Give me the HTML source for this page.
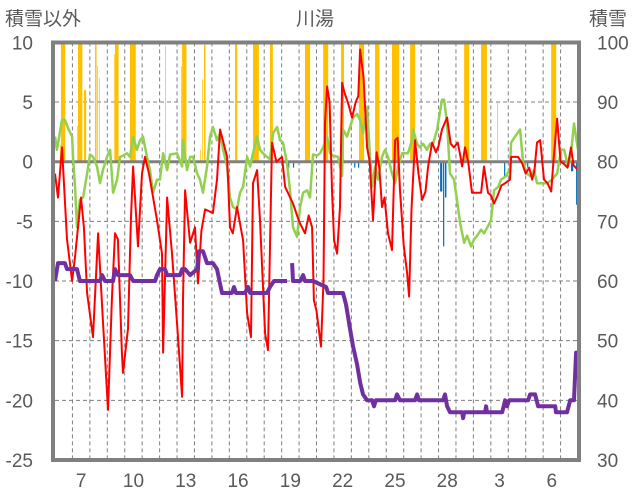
<!DOCTYPE html>
<html><head><meta charset="utf-8"><style>
html,body{margin:0;padding:0;background:#fff;}
svg{display:block;font-family:"Liberation Sans","Noto Sans CJK JP",sans-serif;}
</style></head><body>
<svg id="chart" width="636" height="501" viewBox="0 0 636 501" xmlns="http://www.w3.org/2000/svg">
<text x="315" y="25" font-size="19" fill="#595959" text-anchor="middle">川湯</text>
<text x="5" y="25" font-size="19" fill="#595959">積雪以外</text>
<text x="589" y="25" font-size="19" fill="#595959">積雪</text>
<g id="grid"></g>
<g id="bars"></g>
<g id="lines"></g>
<g id="axes"></g>
</svg>
<script>
const leftTicks = [10,5,0,-5,-10,-15,-20,-25];
const rightTicks = [100,90,80,70,60,50,40,30];
const xLabels = ["7","10","13","16","19","22","25","28","3","6"];
const xLabelDays = [1,4,7,10,13,16,19,22,25,28];
const dayCount = 30;

const redT = [0,0.17,0.4,0.69,0.98,1.15,1.32,1.49,1.66,1.84,2.18,2.47,2.75,3.04,3.27,3.44,3.61,3.84,3.9,4.19,4.36,4.48,4.76,4.99,5.16,5.39,5.85,6.14,6.2,6.43,6.71,7.0,7.29,7.34,7.46,7.75,8.03,8.2,8.4,8.61,9.06,9.29,9.47,9.87,10.04,10.2,10.44,10.79,11.02,11.24,11.36,11.59,11.76,12.05,12.22,12.45,12.7,13.02,13.2,13.65,14.0,14.34,14.55,14.75,14.85,15.0,15.26,15.4,15.49,15.61,15.75,15.89,16.01,16.18,16.35,16.47,16.6,16.81,17.04,17.25,17.4,17.5,17.7,17.9,18.05,18.24,18.45,18.6,18.76,18.9,19.1,19.33,19.51,19.65,19.79,20.0,20.2,20.31,20.45,20.65,20.85,21.06,21.25,21.4,21.63,21.85,22.0,22.2,22.49,22.7,22.89,23.1,23.25,23.35,23.52,23.7,23.92,24.2,24.44,24.61,24.84,25.0,25.19,25.4,25.6,25.82,26.0,26.1,26.16,26.56,26.79,27.0,27.2,27.37,27.5,27.65,27.83,28.05,28.25,28.46,28.6,28.8,29.0,29.2,29.4,29.6,29.75,30];
const redV = [-1,-3,1.2,-6.5,-10,-8,-5.5,-3,-5.5,-11,-14.7,-6,-13.3,-20.8,-11.3,-6,-6.5,-16,-17.7,-14,-4.6,-0.4,-7.1,-1,0.4,-1,-4.9,-7.7,-16,-3,-7.7,-13.5,-19.7,-11.6,-2.4,-6.8,-5.5,-10.2,-5.8,-4,-4.3,-1.5,2.7,0.4,-5.5,-6,-3.8,-6.6,-12.7,-14.7,-1.8,-0.7,-4.9,-14.4,-15.8,1.6,0,0.4,-2.1,-3.5,-5,-6,-4.5,-5.5,-11.6,-12.5,-15.5,-10,3.2,6.3,5,-2.4,-6.6,-7.7,-3.8,6.6,5.8,4.9,3.7,5,5.5,9.4,7,1.2,0,-4.9,0.8,-0.5,-3.8,-3,-6,-7.4,1.8,2,-2.4,-7,-9.4,-11.3,-4,1.8,-1,-3.2,-2.5,-0.4,1.6,0.8,1.3,2.7,3.7,1.5,1.2,1.6,0.5,-0.4,1.2,0,-2.6,-2.6,-2.6,-0.4,-2.6,-2.8,-3.5,-2.8,-2,-1.8,-1.6,-1.5,0.4,0.4,-0.1,-1,-0.5,-1.5,-0.8,1.6,1.8,-1.5,-1.8,-2.5,0.2,3.6,0,-0.2,-0.5,1.2,-0.3,-0.7];

const greenT = [0,0.11,0.4,0.57,0.75,0.98,1.03,1.15,1.26,1.43,1.61,1.84,2.01,2.18,2.41,2.58,2.75,2.98,3.16,3.33,3.56,3.73,3.9,4.13,4.3,4.48,4.7,4.88,5.05,5.28,5.45,5.62,5.85,6.02,6.2,6.43,6.6,7.0,7.29,7.34,7.57,7.75,7.92,8.15,8.32,8.49,8.72,8.89,9.06,9.29,9.47,9.64,9.87,10.04,10.21,10.44,10.61,10.79,11.02,11.19,11.36,11.59,11.76,11.93,12.16,12.33,12.51,12.74,12.91,13.08,13.31,13.48,13.65,13.88,14.06,14.23,14.46,14.63,14.8,15.03,15.2,15.38,15.61,15.78,15.95,16.24,16.47,16.52,16.75,16.92,17.1,17.33,17.5,17.67,17.9,18.07,18.19,18.36,18.53,18.76,18.93,19.1,19.33,19.51,19.68,19.91,20.08,20.25,20.48,20.54,20.77,20.94,21.11,21.34,21.51,21.69,21.92,22.2,22.32,22.49,22.66,22.89,23.06,23.24,23.47,23.64,23.87,24.04,24.21,24.44,24.61,24.84,25.01,25.19,25.42,25.59,25.88,26.1,26.16,26.39,26.68,26.85,27.08,27.25,27.48,27.65,27.94,28.23,28.51,28.8,29.03,29.2,29.43,29.6,29.77,30];
const greenV = [2.1,1.0,3.5,3.5,2.8,2.1,0.4,-2.1,-5.5,-3.2,-3,-1.0,0.6,0.4,-0.4,-1.8,-0.7,0.4,1.0,-2.6,-1.5,0.4,0.5,0.7,0.4,2.1,1.0,1.8,2.1,0.4,-0.7,-2.6,-1.5,-1.5,0.7,-0.7,0.6,0.7,-0.4,1.8,-0.7,0.4,0.4,-1,-1.5,-2.6,-0.4,2.1,2.9,1.8,2.4,1.0,-0.4,-3,-3.8,-4,-2.6,-2.1,0.4,-0.4,0.7,2.1,1.0,0.7,0.4,0.2,2.4,2.9,1.8,1.6,-0.1,-2.4,-5.5,-6.3,-3.8,-2.6,-2.4,-3,0.6,0.5,0.7,1.2,2.1,0.7,0.5,0.4,-1.2,2.7,2.1,2.9,3.7,4.0,3.5,2.4,4.6,0.4,-2.1,-0.4,-1.5,0.4,1.0,0.4,-1,-1.8,-0.4,0.7,0.7,0.7,1.8,2.7,1.5,1.2,1.5,1.0,1.5,1.5,2.7,5.2,5.2,3.2,-1,-1.5,-3.2,-5.2,-6.8,-6.2,-7.1,-6.5,-6.2,-5.7,-6,-5.4,-4.9,-2.4,-2.1,-1.5,-1.2,-0.6,1.6,2.1,2.7,-0.1,-1,-1.2,-0.7,-1.8,-1.8,-1.8,-1.5,-1,1,1,-0.4,0.7,3.2,1.0];

const snowT = [0,0.17,0.57,0.69,1.26,1.43,2.58,2.7,2.87,3.33,3.44,3.61,4.3,4.48,5.74,5.85,6.02,6.31,6.43,7.17,7.29,7.46,7.75,8.15,8.26,8.49,8.72,9.06,9.29,9.58,10.15,10.27,10.38,10.9,11.07,11.19,12.16,12.33,12.56,13.31,13.45,13.6,13.65,14.06,14.23,14.34,14.8,15.55,15.66,16.52,16.7,16.92,17.1,17.33,17.5,17.67,17.9,18.19,18.3,18.41,19.51,19.62,19.79,20.65,20.77,20.88,22.26,22.37,22.49,22.66,23.35,23.41,23.47,24.67,24.73,24.78,25.65,25.82,25.93,26.05,27.14,27.25,27.54,27.71,28.69,28.74,29.37,29.55,29.77,29.89,30];
const snowV = [60,63,63,62,62,60,60,61,60,60,62,61,61,60,60,61,62,62,61,61,62,62,61,62,65,65,63,63,62,58,58,59,58,58,59,58,58,59,60,60,null,63,60,60,61,60,60,59,58,58,56,52,49,46,43,41,40,40,39,40,40,41,40,40,41,40,40,41,39,38,38,37,38,38,39,38,38,40,39,40,40,41,41,39,39,38,38,40,40,48,48];

const precipT = [0.29,0.34,1.26,1.32,1.66,2.3,2.41,2.52,3.38,3.44,4.3,6.31,7.23,7.29,8.32,8.43,8.55,10.33,11.36,12.33,14.34,15.38,16.41,17.44,18.36,19.33,20.37,23.47,24.44,25.36,27.54,28.46];
const precipHours = [1,6,1,6,3,2,1,1,1,5,8,1,1,6,1,1,2,3,8,4,7,7,4,7,6,10,7,7,8,1,1,7];
const precipV = [1.4,12,3,12,6,10,8,7,9,12,12,9.7,8,12,1,6.9,9.8,12,12,12,12,12,12,12,12,12,12,12,12,5,0.6,12];

const meltT = [13.37,13.65,17.16,17.38,22.09,22.26,22.37,25.76,27.08,29.6,29.89];
const meltHours = [1,1,1,1,3,1,2,1,1,3,1];
const meltV = [-0.5,-0.5,-0.5,-0.5,-2.5,-7.1,-3,-1.2,-0.5,-0.8,-3.6];

const NS = "http://www.w3.org/2000/svg";
const X0 = 55, X1 = 578, YT = 42.4, YB = 460;
function xs(t){ return X0 + t*(X1-X0)/dayCount; }
function yl(v){ return 161.7 - v*(YB-161.7)/25; }
function yr(v){ return yl((v-80)/2); }
function mk(tag, attrs, parent){ const e=document.createElementNS(NS,tag); for(const k in attrs) e.setAttribute(k,attrs[k]); parent.appendChild(e); return e; }

const grid = document.getElementById('grid');
for (let i=0;i<leftTicks.length;i++){
  const v=leftTicks[i];
  if (v===0||v===10||v===-25) continue;
  const l = mk('line',{x1:X0,x2:X1,y1:yl(v),y2:yl(v),stroke:'#7f7f7f','stroke-width':1,'stroke-dasharray':'4,3'},grid);
  
  
}
for (let d=1; d<dayCount; d++){
  const l = mk('line',{x1:xs(d),x2:xs(d),y1:YT,y2:YB,stroke:'#7f7f7f','stroke-width':1,'stroke-dasharray':'4,3'},grid);
  
  
}

const bars = document.getElementById('bars');
for (let i=0;i<precipT.length;i++){
  const x = xs(precipT[i]), w = xs(precipT[i]+precipHours[i]/24)-x;
  const top = Math.max(YT, yl(precipV[i]));
  const r = mk('rect',{x:x,y:top,width:w,height:yl(0)-top,fill:'#ffc000'},bars);
  
  
}
for (let i=0;i<meltT.length;i++){
  const x = xs(meltT[i]), w = Math.max(1.2, xs(meltT[i]+meltHours[i]/24)-x);
  const r = mk('rect',{x:x,y:yl(0),width:w,height:yl(meltV[i])-yl(0),fill:'#0070c0'},bars);
  
  
}
const zl = mk('line',{x1:X0,x2:X1,y1:yl(0),y2:yl(0),stroke:'#808080','stroke-width':3},bars);



const lines = document.getElementById('lines');
function path(T,V,f){
  let d='', pen=false;
  for(let i=0;i<T.length;i++){
    if(V[i]===null){pen=false;continue;}
    d += (pen?'L':'M') + xs(T[i]).toFixed(1)+','+f(V[i]).toFixed(1);
    pen=true;
  }
  return d;
}
const g = mk('path',{d:path(greenT,greenV,yl),fill:'none',stroke:'#92d050','stroke-width':2.5,'stroke-linejoin':'round'},lines);


const r = mk('path',{d:path(redT,redV,yl),fill:'none',stroke:'#ff0000','stroke-width':2,'stroke-linejoin':'round'},lines);


const p = mk('path',{d:path(snowT,snowV,yr),fill:'none',stroke:'#7030a0','stroke-width':4,'stroke-linejoin':'round'},lines);



const axes = document.getElementById('axes');
const fr = mk('rect',{x:53,y:42.5,width:526,height:417.5,fill:'none',stroke:'#808080','stroke-width':4},axes);


for (let i=0;i<leftTicks.length;i++){
  const t = mk('text',{x:33,y:yl(leftTicks[i])+7,'font-size':19,fill:'#595959','text-anchor':'end'},axes);
  t.textContent = leftTicks[i];
  
  
}
for (let i=0;i<rightTicks.length;i++){
  const t = mk('text',{x:597,y:yr(rightTicks[i])+7,'font-size':19,fill:'#595959'},axes);
  t.textContent = rightTicks[i];
  
  
}
for (let i=0;i<xLabels.length;i++){
  const t = mk('text',{x:xs(xLabelDays[i]+0.5),y:487,'font-size':19,fill:'#595959','text-anchor':'middle'},axes);
  t.textContent = xLabels[i];
  
  
}
</script>
</body></html>
